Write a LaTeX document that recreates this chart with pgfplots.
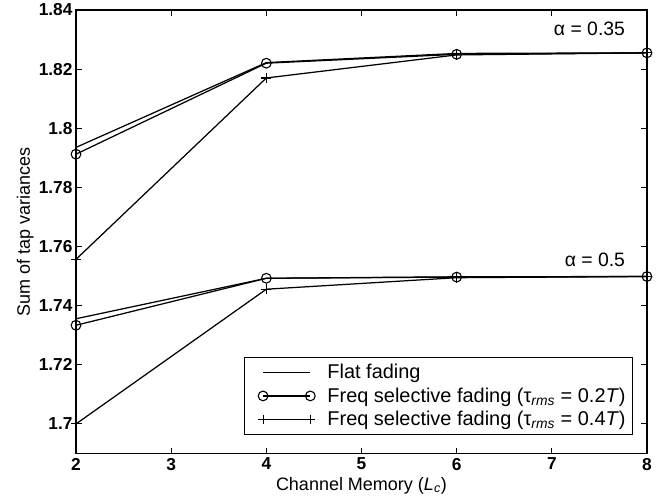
\documentclass[border=0pt]{standalone}
\usepackage{fontspec}
\setmainfont{Liberation Sans}
\usepackage{pgfplots}
\pgfplotsset{compat=1.18}
\begin{document}
\begin{tikzpicture}
\begin{axis}[
  scale only axis,
  width=411bp, height=319bp,
  xmin=2, xmax=8, ymin=1.69, ymax=1.84,
  xtick={2,3,4,5,6,7,8},
  ytick={1.7,1.72,1.74,1.76,1.78,1.8,1.82,1.84},
  yticklabels={1.7,1.72,1.74,1.76,1.78,1.8,1.82,1.84},
  /pgf/number format/assume math mode=true,
  tick align=inside,
  major tick length=4bp,
  tick style={black, line width=0.8pt},
  axis line style={line width=0.9pt},
  xticklabel style={font=\fontsize{12.5}{14}\selectfont\bfseries},
  yticklabel style={font=\fontsize{12.5}{14}\selectfont\bfseries, xshift=1bp},
  xlabel={Channel Memory (\textit{L}\textsubscript{\textit{c}})},
  ylabel={Sum of tap variances},
  label style={font=\fontsize{13}{15}\selectfont},
  xlabel style={yshift=2bp},
  ylabel style={yshift=-3bp},
  legend style={at={(1,0)}, anchor=south east, xshift=-10bp, yshift=13bp,
    draw=black, line width=0.8pt, cells={anchor=west}, font=\fontsize{14.4}{16}\selectfont,
    row sep=1bp, inner xsep=3bp, inner ysep=3bp},
  legend image code/.code={\path (-0.35cm,0cm) (1.55cm,0cm); \draw[#1] (0cm,0cm) -- (1.2cm,0cm); \path[#1] plot coordinates {(0cm,0cm) (1.2cm,0cm)};},
  clip=false,
]
% upper group alpha = 0.35
\addplot[black, line width=0.9pt, mark=none] coordinates {(2,1.7935) (4,1.8222) (6,1.8253) (8,1.8255)};
\addlegendentry{Flat fading}
\addplot[black, line width=0.9pt, mark=o, mark size=3.5bp, mark options={line width=0.8pt}] coordinates {(2,1.7912) (4,1.8220) (6,1.8250) (8,1.8255)};
\addlegendentry{Freq selective fading (τ\textsubscript{\textit{rms}} = 0.2\textit{T})}
\addplot[black, line width=0.9pt, mark=+, mark size=3.5bp, mark options={line width=0.8pt}] coordinates {(2,1.7556) (4,1.8170) (6,1.8248) (8,1.8255)};
\addlegendentry{Freq selective fading (τ\textsubscript{\textit{rms}} = 0.4\textit{T})}
% lower group alpha = 0.5
\addplot[black, line width=0.9pt, mark=none, forget plot] coordinates {(2,1.7355) (4,1.7492) (6,1.7497) (8,1.7498)};
\addplot[black, line width=0.9pt, mark=o, mark size=3.5bp, mark options={line width=0.8pt}, forget plot] coordinates {(2,1.7333) (4,1.7492) (6,1.7496) (8,1.7498)};
\addplot[black, line width=0.9pt, mark=+, mark size=3.5bp, mark options={line width=0.8pt}, forget plot] coordinates {(2,1.6999) (4,1.7455) (6,1.7494) (8,1.7498)};
\node[anchor=east, font=\fontsize{14}{16}\selectfont] at (axis cs:7.82,1.8335) {α = 0.35};
\node[anchor=east, font=\fontsize{14}{16}\selectfont] at (axis cs:7.82,1.7555) {α = 0.5};
\end{axis}
\pgfresetboundingbox
\path[use as bounding box] ([xshift=-54.7bp, yshift=-36bp]current axis.south west) rectangle ([xshift=14.4bp, yshift=7.2bp]current axis.north east);
\end{tikzpicture}
\end{document}
